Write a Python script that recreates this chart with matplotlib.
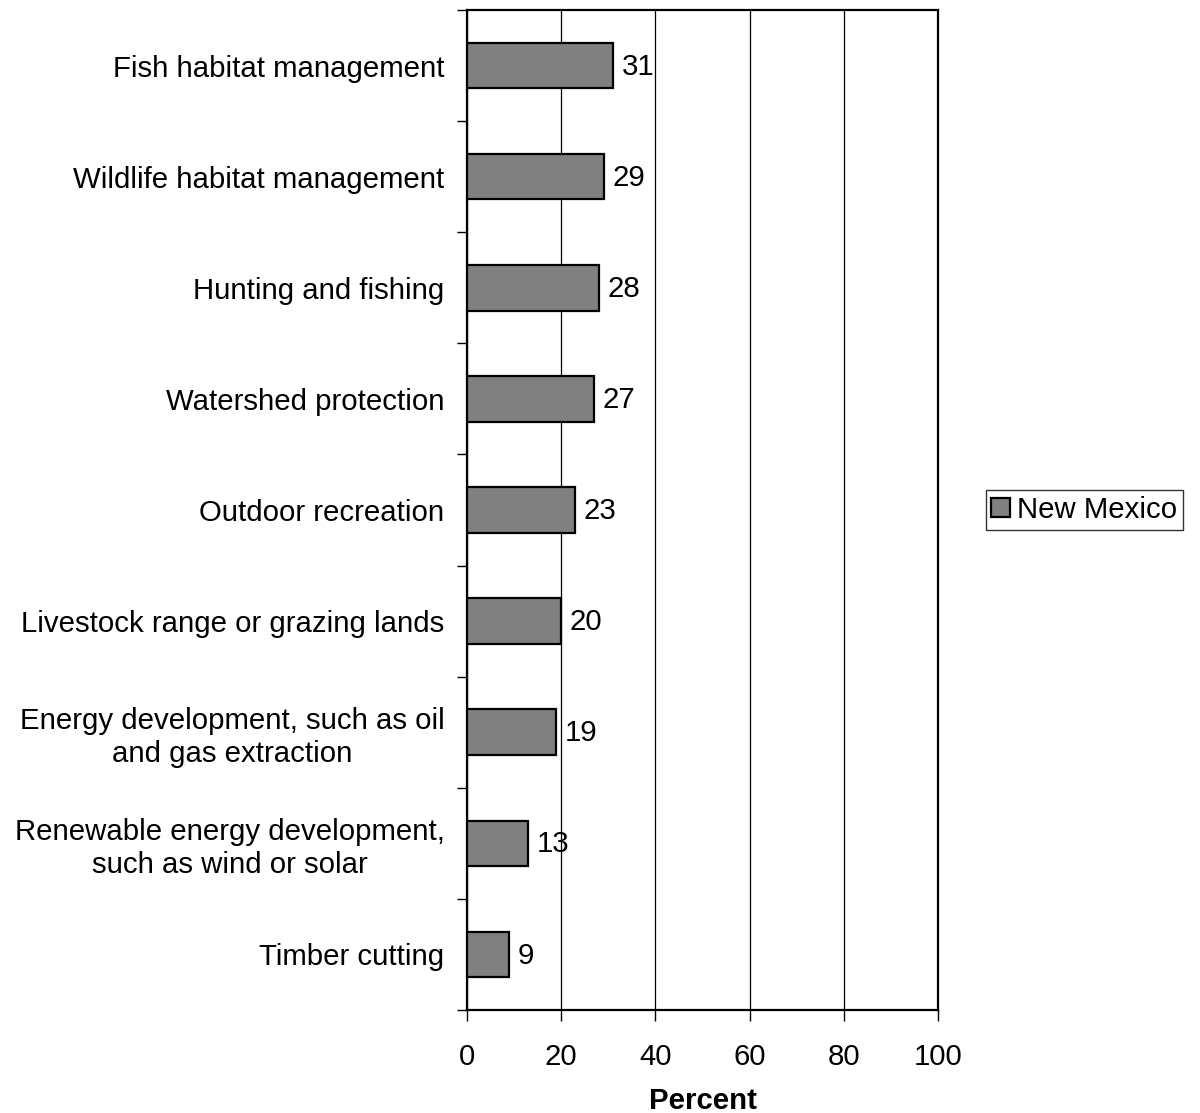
import numpy as np
import matplotlib
matplotlib.use('Agg')
import matplotlib.pyplot as plt
from matplotlib.ticker import FixedLocator

plt.rcParams['font.family'] = ['Liberation Sans', 'DejaVu Sans']

# data, top to bottom
categories = ['Fish habitat management',
              'Wildlife habitat management',
              'Hunting and fishing',
              'Watershed protection',
              'Outdoor recreation',
              'Livestock range or grazing lands',
              'Energy development, such as oil\nand gas extraction',
              'Renewable energy development,\nsuch as wind or solar',
              'Timber cutting']
values = [31, 29, 28, 27, 23, 20, 19, 13, 9]
series_name = 'New Mexico'
x_ticks = [0, 20, 40, 60, 80, 100]

fs = 21.2
n = len(categories)
ypos = np.arange(n)

fig = plt.figure(figsize=(12, 11.13), dpi=100)
ax = fig.add_axes([0.389, 0.0925, 0.393, 0.8985])

ax.barh(ypos, values, height=0.41, color='#808080', edgecolor='black',
        linewidth=1.6, label=series_name, zorder=3)
for y, v in zip(ypos, values):
    ax.text(v + 1.8, y + 0.01, '%d' % v, va='center', ha='left', fontsize=fs, zorder=4)

ax.set_xlim(0, 100)
ax.set_ylim(n - 0.5, -0.5)
ax.set_xticks(x_ticks)
ax.set_xticklabels([str(t) for t in x_ticks], fontsize=fs)
ax.tick_params(axis='x', direction='out', length=8, width=1, pad=16)
ax.set_xlabel('Percent', fontsize=fs, fontweight='bold', labelpad=11)

ax.set_yticks(ypos)
ax.set_yticklabels(categories, fontsize=fs, multialignment='center')
ax.tick_params(axis='y', which='major', length=0, pad=16)
ax.yaxis.set_minor_locator(FixedLocator(np.arange(-0.5, n, 1.0)))
ax.tick_params(axis='y', which='minor', direction='out', length=7, width=1)

ax.grid(True, axis='x', color='black', linewidth=0.9, zorder=0)
for s in ax.spines.values():
    s.set_linewidth(1.6)

leg = ax.legend(loc='center left', bbox_to_anchor=(1.1, 0.5), fontsize=fs,
                frameon=True, fancybox=False, edgecolor='black',
                handlelength=0.62, handleheight=0.62, handletextpad=0.25,
                borderpad=0.2, borderaxespad=0)
leg.get_frame().set_linewidth(1.0)

plt.savefig('out.png', dpi=100)
plt.close()
